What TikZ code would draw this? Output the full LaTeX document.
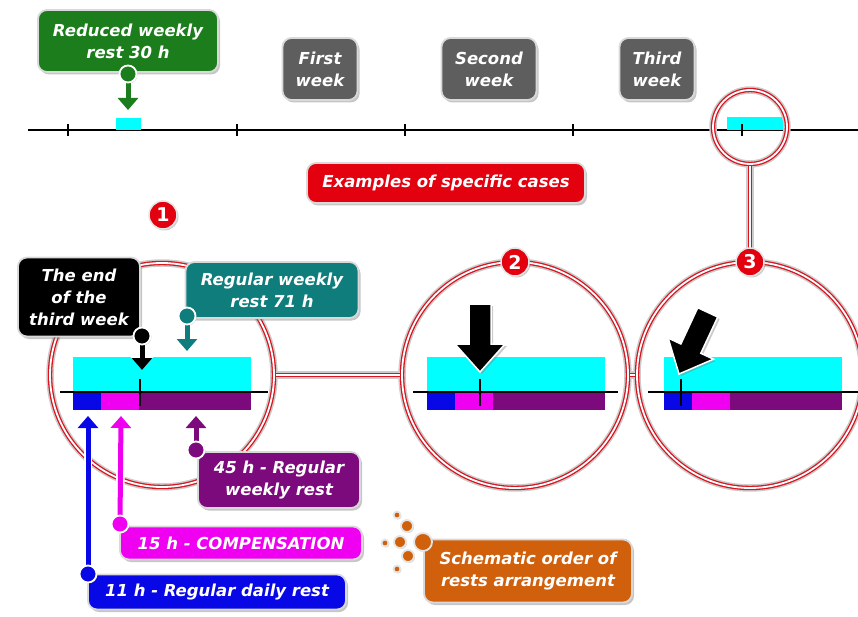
\documentclass[tikz,border=0pt]{standalone}
\usepackage{fontspec}
\setsansfont{DejaVu Sans}
\usepackage{xcolor}
\definecolor{cRing}{HTML}{D8141E}
\definecolor{cRed}{HTML}{E3000F}
\definecolor{cGreen}{HTML}{1C7D1C}
\definecolor{cGray}{HTML}{5E5E5E}
\definecolor{cTeal}{HTML}{107D7D}
\definecolor{cPurple}{HTML}{7C0A7C}
\definecolor{cMagenta}{HTML}{F000F0}
\definecolor{cBlue}{HTML}{0808E6}
\definecolor{cOrange}{HTML}{D0600C}
\definecolor{cCyan}{HTML}{00FFFF}
\usepackage{tikz}
\usetikzlibrary{positioning,arrows.meta,shadows}
\tikzset{
  node-box/.style={rounded corners=9pt,draw=white!85!black,line width=1.8pt,
    text=white,align=center,inner sep=2pt,
    font=\sffamily\bfseries\itshape\fontsize{16.5}{22}\selectfont,
    drop shadow={opacity=0.45,shadow xshift=2pt,shadow yshift=-2.5pt}},
  node-badge/.style={circle,fill=cRed,draw=white!90!black,line width=1.5pt,
    text=white,minimum size=28pt,inner sep=0pt,
    font=\sffamily\bfseries\fontsize{19}{19}\selectfont,
    drop shadow={opacity=0.4,shadow xshift=1.5pt,shadow yshift=-1.5pt}},
  % ring = gray halo, red stroke, white core
  node-ring/.style={circle,draw=cRing,line width=4.4pt,inner sep=0pt,
    preaction={draw=black!20,line width=7.5pt},
    postaction={draw=white,line width=1.8pt}},
  ring-link/.style={draw=cRing,line width=4.4pt,
    preaction={draw=black!20,line width=7.5pt},
    postaction={draw=white,line width=1.8pt}},
  pin-dot/.style={circle,draw=white,line width=1.8pt,minimum size=17pt,
    inner sep=0pt,fill=#1,drop shadow={opacity=0.35,shadow xshift=1pt,shadow yshift=-1pt}},
  pin-arrow/.style={draw=#1,line width=5pt,-{Triangle[length=12pt 0 0,width=20pt 0 0]},
    preaction={draw=white,line width=8.5pt,-{Triangle[length=15pt 0 0,width=25pt 0 0]}}},
  big-arrow/.style={fill=black,draw=white,line width=1.5pt,
    drop shadow={opacity=0.4,shadow xshift=2pt,shadow yshift=-2pt}},
  legend-dot/.style={fill=cOrange,draw=white!90!black,line width=1.8pt,
    drop shadow={opacity=0.35,shadow xshift=1pt,shadow yshift=-1pt}},
  axis/.style={draw=black,line width=1.4pt},
}

\begin{document}
\begin{tikzpicture}[x=1pt,y=-1pt]
  \useasboundingbox (0,0) rectangle (858,617);

  % time line
  \draw[axis] (28,130) -- (858,130);
  \foreach \tx in {68,237,405,573,742}
    \draw[axis] (\tx,124) -- (\tx,136);
  \fill[cCyan] (116,118) rectangle (141,130);
  \fill[cCyan] (727,117) rectangle (787,130);
  \draw[axis] (742,124) -- (742,136);

  % rings
  \node[node-ring,minimum size=74pt]  (ring-top) at (750,127) {};
  \node[node-ring,minimum size=224pt] (ring-1) at (162,375) {};
  \node[node-ring,minimum size=226pt] (ring-2) at (515,375) {};
  \node[node-ring,minimum size=226pt] (ring-3) at (750,375) {};
  \draw[ring-link] (ring-top.south) -- (ring-3.north);
  \draw[ring-link] (ring-1.east) -- (ring-2.west);
  \draw[ring-link] (ring-2.east) -- (ring-3.west);

  % rest bars
  \foreach \bx/\tk/\la/\lb in {73/140/60/268,427/480/413/618,664/681/648/858}{
    \fill[cCyan]   (\bx,357) rectangle ++(178,35);
    \fill[cBlue]   (\bx,392) rectangle ++(28,18);
    \fill[cMagenta] (\bx+28,392) rectangle ++(38,18);
    \fill[cPurple] (\bx+66,392) rectangle ++(112,18);
    \draw[axis] (\la,392) -- (\lb,392);
    \draw[line width=1.2pt] (\tk,379) -- (\tk,406);
  }

  % big arrows
  \begin{scope}[shift={(480,372)}]
    \filldraw[big-arrow] (0,0) -- (25,-28) -- (11,-28) -- (11,-68)
      -- (-11,-68) -- (-11,-28) -- (-25,-28) -- cycle;
  \end{scope}
  \begin{scope}[shift={(679,374)},rotate=-25]
    \filldraw[big-arrow] (0,0) -- (25,-28) -- (11,-28) -- (11,-68)
      -- (-11,-68) -- (-11,-28) -- (-25,-28) -- cycle;
  \end{scope}

  % badges
  \node[node-badge] (b1) at (163,215) {1};
  \node[node-badge] (b2) at (515,262) {2};
  \node[node-badge] (b3) at (750,262) {3};

  % week labels
  \node[node-box,fill=cGreen,minimum width=180pt,minimum height=62pt]
    (wk-reduced) at (128,41) {Reduced weekly\\rest 30 h};
  \node[node-box,fill=cGray,minimum width=75pt,minimum height=62pt]
    (wk-first) at (320,69) {First\\week};
  \node[node-box,fill=cGray,minimum width=95pt,minimum height=62pt]
    (wk-second) at (489,69) {Second\\week};
  \node[node-box,fill=cGray,minimum width=75pt,minimum height=62pt]
    (wk-third) at (657,69) {Third\\week};
  \node[node-box,fill=cRed,minimum width=278pt,minimum height=40pt]
    (cases) at (446,183) {Examples of specific cases};

  % case 1 labels
  \node[node-box,fill=black,minimum width=122pt,minimum height=79pt]
    (end-week) at (79,297) {The end\\of the\\third week};
  \node[node-box,fill=cTeal,minimum width=173pt,minimum height=56pt]
    (rest71) at (272,290) {Regular weekly\\rest 71 h};
  \node[node-box,fill=cPurple,minimum width=162pt,minimum height=56pt]
    (rest45) at (279,480) {45 h - Regular\\weekly rest};
  \node[node-box,fill=cMagenta,minimum width=242pt,minimum height=33pt]
    (comp15) at (241,543) {15 h - COMPENSATION};
  \node[node-box,fill=cBlue,minimum width=258pt,minimum height=35pt]
    (daily11) at (217,592) {11 h - Regular daily rest};

  % pins
  \coordinate (tip-green)  at (128,110);
  \coordinate (tip-black)  at (142,370);
  \coordinate (tip-teal)   at (187,351);
  \coordinate (tip-purple) at (196,416);
  \coordinate (tip-mag)    at (121,416);
  \coordinate (tip-blue)   at (88,416);
  \draw[pin-arrow=cGreen]   (128,74)  -- (tip-green);
  \draw[pin-arrow=black]    (142,336) -- (tip-black);
  \draw[pin-arrow=cTeal]    (187,316) -- (tip-teal);
  \draw[pin-arrow=cPurple]  (196,450) -- (tip-purple);
  \draw[pin-arrow=cMagenta] (120,524) -- (tip-mag);
  \draw[pin-arrow=cBlue]    (88,574)  -- (tip-blue);
  \node[pin-dot=cGreen]   (pin-green)  at (128,74) {};
  \node[pin-dot=black]    (pin-black)  at (142,336) {};
  \node[pin-dot=cTeal]    (pin-teal)   at (187,316) {};
  \node[pin-dot=cPurple]  (pin-purple) at (196,450) {};
  \node[pin-dot=cMagenta] (pin-mag)    at (120,524) {};
  \node[pin-dot=cBlue]    (pin-blue)   at (88,574) {};

  % legend
  \foreach \dx/\dy/\dr in {397/515/3.5,407/526/6,400/542/6,385/543/3.5,
                           408/556/6,397/569/3.5}
    \filldraw[legend-dot] (\dx,\dy) circle (\dr);
  \node[node-box,fill=cOrange,minimum width=208pt,minimum height=63pt]
    (order) at (528,571) {Schematic order of\\rests arrangement};
  \filldraw[legend-dot] (423,542) circle (9);
\end{tikzpicture}
\end{document}
